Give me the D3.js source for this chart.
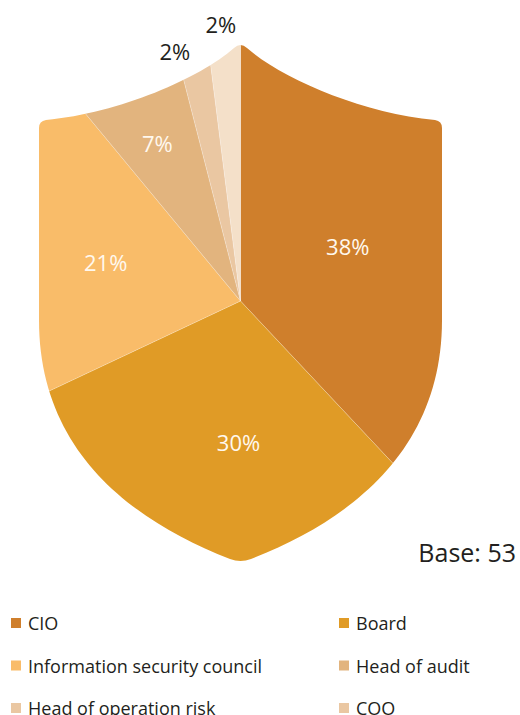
<!DOCTYPE html>
<html>
<head>
<meta charset="utf-8">
<script src="https://cdn.jsdelivr.net/npm/d3@7"></script>
<style>
  body { margin: 0; background: #fff; }
  svg { display: block; font-family: "Open Sans", sans-serif; }
</style>
</head>
<body>
<main></main>
<script>
const categories = ["CIO", "Board", "Information security council", "Head of audit", "Head of operation risk", "COO"];
const values = [38, 30, 21, 7, 2, 2];
const sliceColors = ["#cf7f2c", "#e09b26", "#f9bc69", "#e2b47e", "#eac7a2", "#f4e0c9"];
const legendColors = ["#cf7f2c", "#e09b26", "#f9bc69", "#e2b47e", "#eac7a2", "#eac7a2"];
const baseLabel = "Base: 53";

const w = 520;
const h = 715;
const cx = 240.5; // middle of the shield
const cy = 301;   // where the slices meet

const svg = d3.select("main")
  .append("svg")
  .attr("width", w)
  .attr("height", h);

// shield outline, left half is drawn and then mirrored round cx
const mx = x => 2 * cx - x;
const shield = d3.path();
shield.moveTo(234, 48);
shield.bezierCurveTo(200, 78, 120, 113, 46, 120);
shield.quadraticCurveTo(39, 121, 39, 128);
shield.lineTo(39, 320);
shield.bezierCurveTo(39, 450, 130, 520, 230, 559);
shield.quadraticCurveTo(cx, 563.1, mx(230), 559);
shield.bezierCurveTo(mx(130), 520, mx(39), 450, mx(39), 320);
shield.lineTo(mx(39), 128);
shield.quadraticCurveTo(mx(39), 121, mx(46), 120);
shield.bezierCurveTo(mx(120), 113, mx(200), 78, mx(234), 48);
shield.quadraticCurveTo(cx, 42, 234, 48);
shield.closePath();

svg.append("clipPath")
  .attr("id", "shield")
  .append("path")
  .attr("d", shield.toString());

const pie = d3.pie().sort(null).value(d => d);
const arcs = pie(values);
const arc = d3.arc().innerRadius(0).outerRadius(320);

const g = svg.append("g")
  .attr("clip-path", "url(#shield)")
  .append("g")
  .attr("transform", `translate(${cx},${cy})`);

g.selectAll("path")
  .data(arcs)
  .enter()
  .append("path")
  .attr("d", arc)
  .attr("fill", (d, i) => sliceColors[i])
  .attr("stroke", "#fff")
  .attr("stroke-opacity", 0.35)
  .attr("stroke-width", 0.6);

// labels sit on the slice's middle angle, pushed in or out a bit like the original
const labelRadius = [120, 142, 140, 177, 257, 276];
const labelTurn = [-5, -10, 3, -1, -4, -0.5]; // degrees
const labels = svg.append("g").attr("transform", `translate(${cx},${cy})`);
labels.selectAll("text")
  .data(arcs)
  .enter()
  .append("text")
  .attr("x", (d, i) => {
    const a = (d.startAngle + d.endAngle) / 2 + labelTurn[i] * Math.PI / 180;
    return Math.sin(a) * labelRadius[i];
  })
  .attr("y", (d, i) => {
    const a = (d.startAngle + d.endAngle) / 2 + labelTurn[i] * Math.PI / 180;
    return -Math.cos(a) * labelRadius[i];
  })
  .attr("dy", "0.35em")
  .attr("text-anchor", "middle")
  .attr("font-size", 22)
  .attr("fill", (d, i) => i >= 4 ? "#231f20" : "#fff8ee")
  .text(d => d.data + "%");

svg.append("text")
  .attr("x", 516)
  .attr("y", 562)
  .attr("text-anchor", "end")
  .attr("font-size", 25)
  .attr("fill", "#231f20")
  .text(baseLabel);

// legend, two columns
const legend = svg.append("g");
const item = legend.selectAll("g")
  .data(categories)
  .enter()
  .append("g")
  .attr("transform", (d, i) => `translate(${i % 2 ? 339 : 11},${623 + Math.floor(i / 2) * 42.5})`);

item.append("rect")
  .attr("y", -5)
  .attr("width", 10)
  .attr("height", 10)
  .attr("fill", (d, i) => legendColors[i]);

item.append("text")
  .attr("x", 17)
  .attr("y", 7)
  .attr("font-size", 18)
  .attr("fill", "#231f20")
  .text(d => d);
</script>
</body>
</html>
